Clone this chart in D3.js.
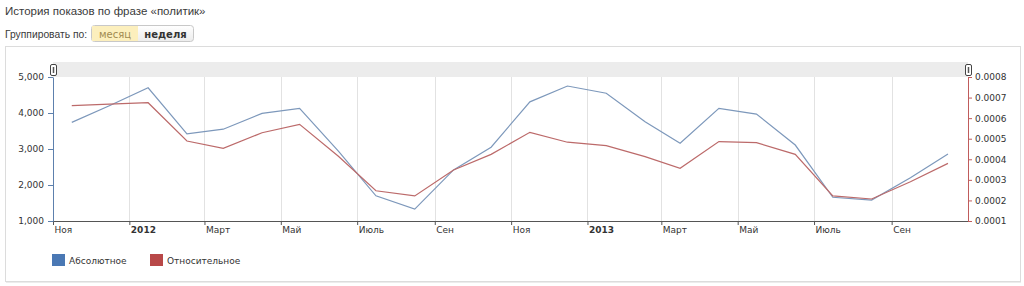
<!DOCTYPE html>
<html>
<head>
<meta charset="utf-8">
<script src="https://cdn.jsdelivr.net/npm/d3@7"></script>
<style>
  body { margin: 0; background: #fff; }
  svg text { font-family: "DejaVu Sans", Verdana, sans-serif; }
</style>
</head>
<body>
<svg id="chart" width="1024" height="286"></svg>
<script>
// monthly points, Nov 2011 .. Oct 2013
let months = ['2011-11', '2011-12', '2012-01', '2012-02', '2012-03', '2012-04', '2012-05', '2012-06',
  '2012-07', '2012-08', '2012-09', '2012-10', '2012-11', '2012-12', '2013-01', '2013-02',
  '2013-03', '2013-04', '2013-05', '2013-06', '2013-07', '2013-08', '2013-09', '2013-10'];

let absolute = [3740, 4200, 4700, 3420, 3550, 3990, 4130, 2940, 1700, 1330, 2420, 3050,
  4310, 4750, 4550, 3760, 3160, 4130, 3970, 3110, 1660, 1580, 2200, 2860];

let relative = [0.000661, 0.000668, 0.000675, 0.000489, 0.000453, 0.000529, 0.000570, 0.000415,
  0.000247, 0.000222, 0.000348, 0.000424, 0.000531, 0.000483, 0.000466, 0.000413,
  0.000356, 0.000486, 0.000481, 0.000424, 0.000222, 0.000207, 0.000291, 0.000380];

let tickMonths = ['2011-11', '2012-01', '2012-03', '2012-05', '2012-07', '2012-09',
  '2012-11', '2013-01', '2013-03', '2013-05', '2013-07', '2013-09'];
let tickLabels = ['Ноя', '2012', 'Март', 'Май', 'Июль', 'Сен', 'Ноя', '2013', 'Март', 'Май', 'Июль', 'Сен'];

let leftTicks = [1000, 2000, 3000, 4000, 5000];
let rightTicks = [0.0001, 0.0002, 0.0003, 0.0004, 0.0005, 0.0006, 0.0007, 0.0008];

let seriesNames = ['Абсолютное', 'Относительное'];
let seriesColors = ['#4a78b4', '#b84848'];
let lineColors = ['#7d98bb', '#bc6a6a'];

let parseMonth = d3.timeParse('%Y-%m');
let pointDate = m => d3.timeDay.offset(parseMonth(m), 15);

let svg = d3.select('#chart');

// header
svg.append('text')
  .attr('x', 5).attr('y', 15)
  .style('font-family', '"Liberation Sans", Arial, sans-serif')
  .style('font-size', '11.5px')
  .attr('fill', '#3a3a3a')
  .text('История показов по фразе «политик»');

svg.append('text')
  .attr('x', 5).attr('y', 37.5)
  .style('font-family', '"Liberation Sans", Arial, sans-serif')
  .style('font-size', '10.3px')
  .attr('fill', '#3a3a3a')
  .text('Группировать по:');

let grad = svg.append('defs').append('linearGradient')
  .attr('id', 'btnGrad').attr('x1', 0).attr('y1', 0).attr('x2', 0).attr('y2', 1);
grad.append('stop').attr('offset', '0%').attr('stop-color', '#ffffff');
grad.append('stop').attr('offset', '100%').attr('stop-color', '#ececec');

svg.append('rect')
  .attr('x', 91.5).attr('y', 25.5).attr('width', 102).attr('height', 16)
  .attr('rx', 3)
  .attr('fill', 'url(#btnGrad)').attr('stroke', '#c8c8c8');
svg.append('rect')
  .attr('x', 92).attr('y', 26).attr('width', 46).attr('height', 15)
  .attr('fill', '#fcefbd');

svg.append('text')
  .attr('x', 115).attr('y', 37.5).attr('text-anchor', 'middle')
  .style('font-size', '10px')
  .attr('fill', '#a08a50')
  .text('месяц');
svg.append('text')
  .attr('x', 165.5).attr('y', 37.5).attr('text-anchor', 'middle')
  .style('font-size', '10px')
  .attr('fill', '#333')
  .style('font-weight', 'bold')
  .text('неделя');

// frame
svg.append('rect')
  .attr('x', 5.5).attr('y', 46.5).attr('width', 1015).attr('height', 235)
  .attr('fill', '#fff').attr('stroke', '#dcdcdc');
svg.append('line')
  .attr('x1', 6).attr('x2', 1021).attr('y1', 282.5).attr('y2', 282.5)
  .attr('stroke', '#ececec');

let x = d3.scaleTime()
  .domain([parseMonth('2011-11'), parseMonth('2013-11')])
  .range([53, 968]);
let yLeft = d3.scaleLinear().domain([1000, 5000]).range([221, 77]);
let yRight = d3.scaleLinear().domain([0.0001, 0.0008]).range([221, 77]);

// scroller band on top
svg.append('rect')
  .attr('x', 53).attr('y', 62).attr('width', 915).attr('height', 15)
  .attr('fill', '#ececec');

[x.range()[0], x.range()[1]].forEach(function(hx) {
  svg.append('rect')
    .attr('x', hx - 2.5).attr('y', 64.5).attr('width', 6).attr('height', 11)
    .attr('rx', 1.5)
    .attr('fill', '#fff').attr('stroke', '#444');
  svg.append('line')
    .attr('x1', hx + 0.5).attr('x2', hx + 0.5).attr('y1', 67).attr('y2', 73)
    .attr('stroke', '#555').attr('stroke-width', 1.5);
});

// vertical grid
let tickDates = tickMonths.map(parseMonth);
svg.selectAll('.grid')
  .data(tickDates.slice(1))
  .enter()
  .append('line')
  .attr('class', 'grid')
  .attr('x1', d => Math.round(x(d)) + 0.5)
  .attr('x2', d => Math.round(x(d)) + 0.5)
  .attr('y1', 77).attr('y2', 221)
  .attr('stroke', '#e2e2e2');

// bottom axis
let xAxis = svg.append('g')
  .attr('transform', 'translate(0,221)')
  .call(d3.axisBottom(x)
    .tickValues(tickDates)
    .tickSize(4)
    .tickSizeOuter(0)
    .tickFormat((d, i) => tickLabels[i]));
xAxis.select('.domain').attr('stroke', '#555');
xAxis.selectAll('.tick line').attr('stroke', '#555');
xAxis.selectAll('.tick text')
  .attr('text-anchor', 'start')
  .attr('x', 1)
  .attr('y', 6)
  .style('font-size', '9px')
  .attr('fill', '#333')
  .style('font-weight', (d, i) => (tickLabels[i].length === 4 && !isNaN(+tickLabels[i])) ? 'bold' : 'normal');

// left axis
let leftAxis = svg.append('g')
  .attr('transform', 'translate(53,0)')
  .call(d3.axisLeft(yLeft)
    .tickValues(leftTicks)
    .tickSize(5)
    .tickSizeOuter(0)
    .tickPadding(4)
    .tickFormat(d3.format(',')));
leftAxis.select('.domain').attr('stroke', '#5d80ad');
leftAxis.selectAll('.tick line').attr('stroke', '#5d80ad');
leftAxis.selectAll('.tick text').style('font-size', '9px').attr('fill', '#333');

// right axis
let rightAxis = svg.append('g')
  .attr('transform', 'translate(968,0)')
  .call(d3.axisRight(yRight)
    .tickValues(rightTicks)
    .tickSize(4)
    .tickSizeOuter(0)
    .tickPadding(3)
    .tickFormat(d3.format('.4f')));
rightAxis.select('.domain').attr('stroke', '#c05c5c');
rightAxis.selectAll('.tick line').attr('stroke', '#c05c5c');
rightAxis.selectAll('.tick text').style('font-size', '9px').attr('fill', '#333');

// lines
let absLine = d3.line()
  .x((d, i) => x(pointDate(months[i])))
  .y(d => yLeft(d));
let relLine = d3.line()
  .x((d, i) => x(pointDate(months[i])))
  .y(d => yRight(d));

svg.append('path')
  .datum(absolute)
  .attr('d', absLine)
  .attr('fill', 'none')
  .attr('stroke', lineColors[0])
  .attr('stroke-width', 1.2);

svg.append('path')
  .datum(relative)
  .attr('d', relLine)
  .attr('fill', 'none')
  .attr('stroke', lineColors[1])
  .attr('stroke-width', 1.2);

// legend
let legend = svg.selectAll('.legend')
  .data(seriesNames)
  .enter()
  .append('g')
  .attr('class', 'legend')
  .attr('transform', (d, i) => `translate(${52 + i * 98},254)`);
legend.append('rect')
  .attr('width', 13).attr('height', 12)
  .attr('fill', (d, i) => seriesColors[i]);
legend.append('text')
  .attr('x', 17).attr('y', 9.5)
  .style('font-size', '9px')
  .attr('fill', '#333')
  .text(d => d);
</script>
</body>
</html>
